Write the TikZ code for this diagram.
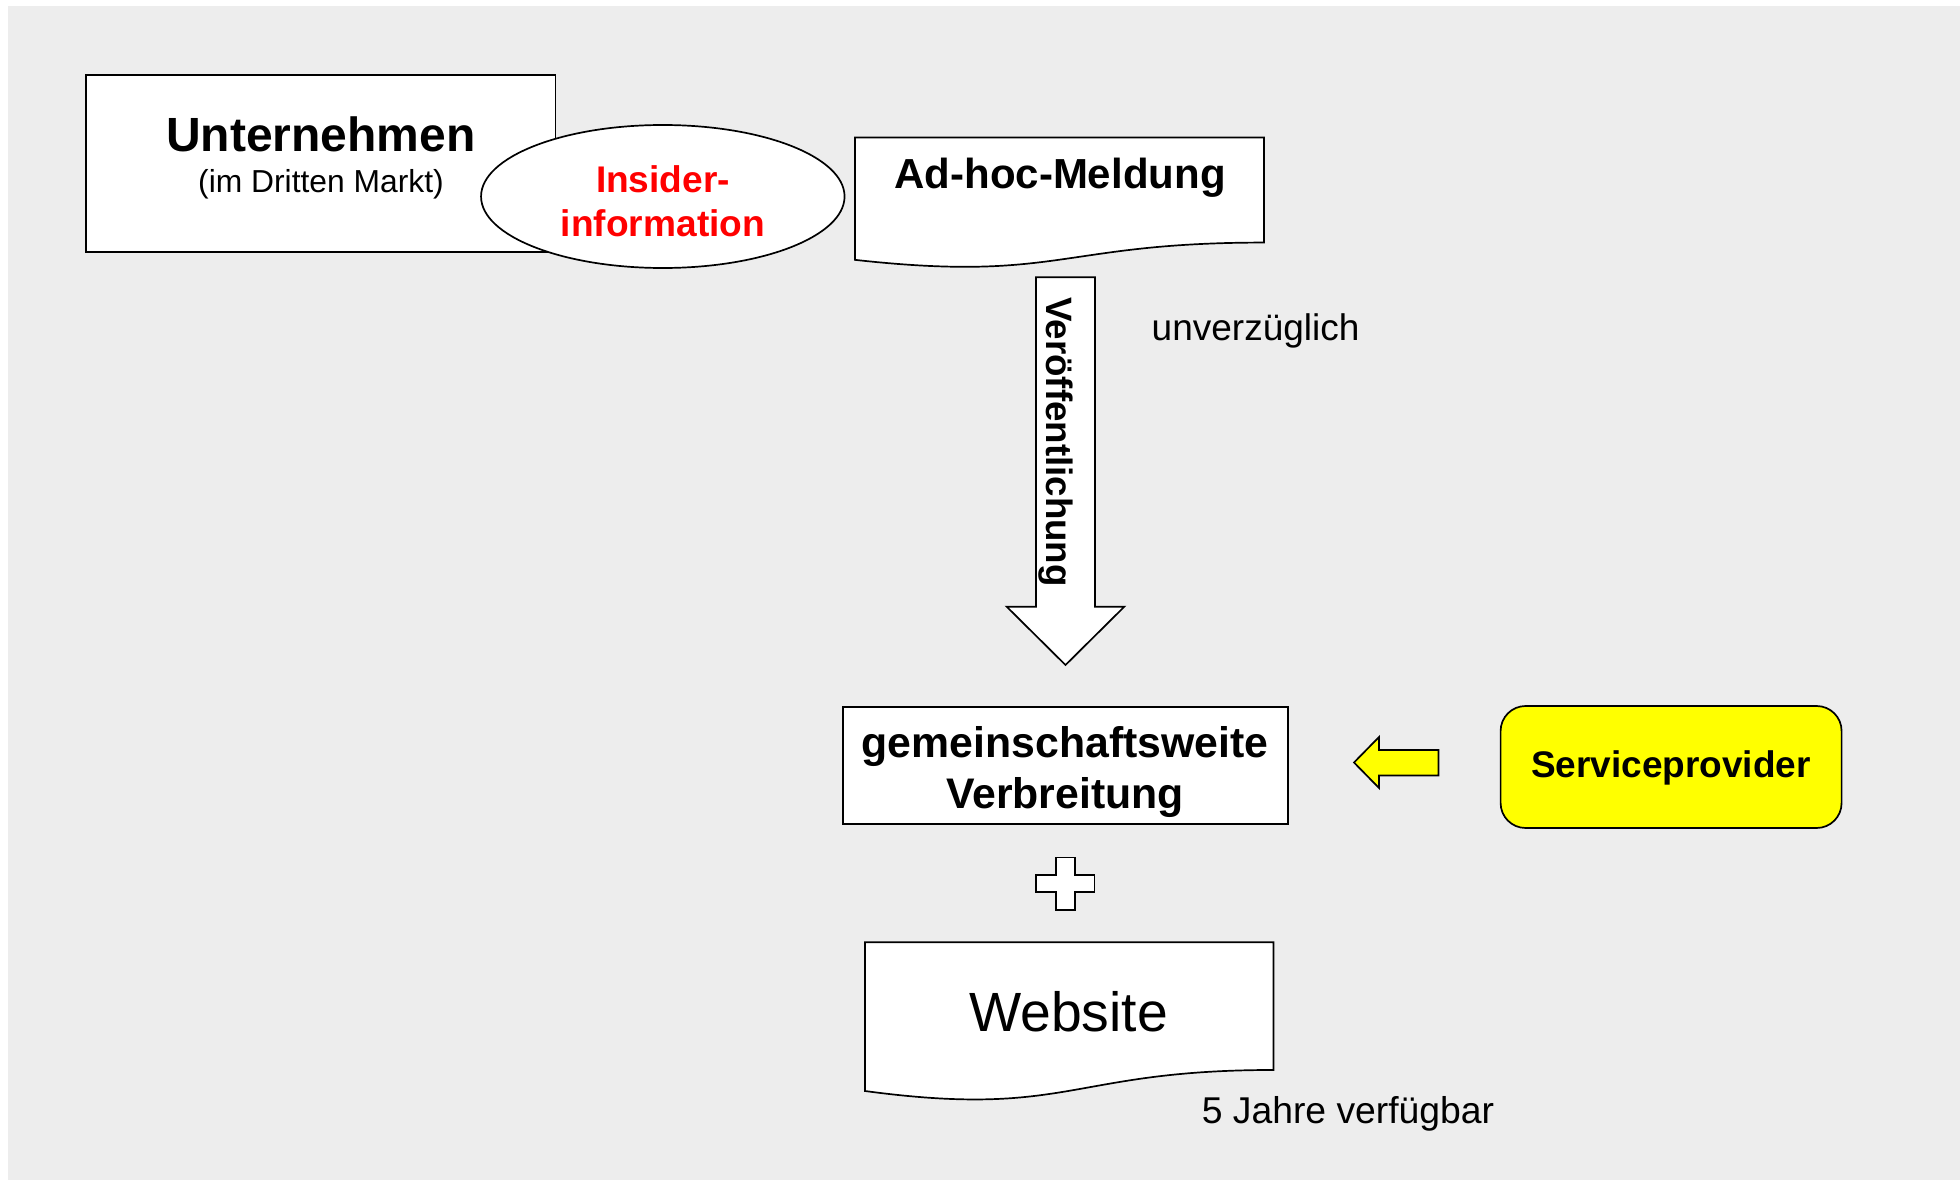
\documentclass[tikz,border=0pt]{standalone}
\usepackage{fontspec}
\setmainfont{Liberation Sans}
\usetikzlibrary{calc,shapes.geometric}

\definecolor{bggray}{HTML}{EDEDED}
\definecolor{alertred}{HTML}{FF0000}
\definecolor{hiyellow}{HTML}{FFFF00}

\tikzset{
  outline/.style={draw=black, line width=1.7pt, fill=white, line join=miter},
  frame/.style={draw=none, inner sep=0pt, outer sep=0pt},
  boxed/.style={frame, outline, rectangle},
  txt/.style={inner sep=0pt, outer sep=0pt, anchor=base, align=center},
}

% draw a document-shaped outline around the frame node #1
\newcommand{\docoutline}[1]{%
  \path let \p1=(#1.north west), \p2=(#1.south east) in
    \pgfextra{\pgfmathsetmacro{\hh}{\y1-\y2}}
    [outline] (\p1) -- (\x2,\y1)
      -- (\x2,{\y1-0.802*\hh})
      .. controls ({(\x1+\x2)/2},{\y1-0.802*\hh}) and ({(\x1+\x2)/2},{\y1-1.107*\hh})
      .. (\x1,{\y1-0.934*\hh}) -- cycle;%
}

\begin{document}
\begin{tikzpicture}[x=1pt,y=-1pt]
  \useasboundingbox (0,0) rectangle (1960,1180);
  \fill[bggray] (8,6) rectangle (1960,1180);

  % company box and insider ellipse
  \node[boxed, minimum width=469.5pt, minimum height=176.5pt, anchor=north west] (firm) at (86,75.3) {};
  \node[txt, font=\bfseries\fontsize{48}{56}\selectfont] (firmname) at (321,152) {Unternehmen};
  \node[txt, font=\fontsize{31.8}{38}\selectfont] (firmmarket) at (321,193) {(im Dritten Markt)};

  \node[frame, ellipse, outline, minimum width=363.5pt, minimum height=143pt] (insider) at (662.8,196.5) {};
  \node[txt, text=alertred, font=\bfseries\fontsize{37.1}{44}\selectfont] (insidera) at (663,192) {Insider-};
  \node[txt, text=alertred, font=\bfseries\fontsize{37.1}{44}\selectfont] (insiderb) at (663,236) {information};

  % ad-hoc notice (document shape)
  \node[frame, minimum width=409pt, minimum height=131pt, anchor=north west] (adhoc) at (855,137.5) {};
  \docoutline{adhoc}
  \node[txt, font=\bfseries\fontsize{42}{50}\selectfont] (adhoctext) at (1060,189) {Ad-hoc-Meldung};

  % publication block arrow
  \coordinate (pubtop) at (1065.5,277.3);
  \draw[outline] ($(pubtop)+(-29.5,0)$) -- ($(pubtop)+(29.5,0)$)
    -- ($(pubtop)+(29.5,329.4)$) -- ($(pubtop)+(58.8,329.4)$)
    -- ($(pubtop)+(0,387.7)$) -- ($(pubtop)+(-58.8,329.4)$)
    -- ($(pubtop)+(-29.5,329.4)$) -- cycle;
  \node[txt, rotate=-90, font=\bfseries\fontsize{36.7}{44}\selectfont] (pubtext) at (1046,442) {Veröffentlichung};
  \node[txt, anchor=base west, font=\fontsize{37}{44}\selectfont] (immediate) at (1151.7,340) {unverzüglich};

  % community-wide distribution
  \node[boxed, minimum width=444.5pt, minimum height=117.5pt, anchor=north west] (spread) at (843.2,706.7) {};
  \node[txt, font=\bfseries\fontsize{42.8}{50}\selectfont] (spreada) at (1065,757) {gemeinschaftsweite};
  \node[txt, font=\bfseries\fontsize{42.8}{50}\selectfont] (spreadb) at (1065,808) {Verbreitung};

  % service provider and its arrow
  \node[frame, rectangle, rounded corners=25pt, draw=black, line width=1.7pt, fill=hiyellow,
        minimum width=341pt, minimum height=122pt, anchor=north west] (provider) at (1500.6,706) {};
  \node[txt, font=\bfseries\fontsize{37}{44}\selectfont] (providertext) at (1671,777) {Serviceprovider};
  \coordinate (feedtip) at (1354,762.5);
  \draw[outline, fill=hiyellow] (feedtip) -- ($(feedtip)+(25,-25.5)$) -- ($(feedtip)+(25,-12.5)$)
    -- ($(feedtip)+(84.5,-12.5)$) -- ($(feedtip)+(84.5,13)$) -- ($(feedtip)+(25,13)$)
    -- ($(feedtip)+(25,25.5)$) -- cycle;

  % plus sign
  \coordinate (plus) at (1065.3,883.8);
  \draw[outline] ($(plus)+(-9.6,-26.2)$) -- ($(plus)+(9.6,-26.2)$) -- ($(plus)+(9.6,-8.5)$)
    -- ($(plus)+(29.3,-8.5)$) -- ($(plus)+(29.3,8.5)$) -- ($(plus)+(9.6,8.5)$)
    -- ($(plus)+(9.6,26.2)$) -- ($(plus)+(-9.6,26.2)$) -- ($(plus)+(-9.6,8.5)$)
    -- ($(plus)+(-29.3,8.5)$) -- ($(plus)+(-29.3,-8.5)$) -- ($(plus)+(-9.6,-8.5)$) -- cycle;

  % website (document shape)
  \node[frame, minimum width=408.4pt, minimum height=159.2pt, anchor=north west] (web) at (865,942.3) {};
  \docoutline{web}
  \node[txt, font=\fontsize{55.3}{64}\selectfont] (webtext) at (1068.5,1031.7) {Website};
  \node[txt, anchor=base west, font=\fontsize{37.3}{44}\selectfont] (available) at (1201.8,1123) {5 Jahre verfügbar};
\end{tikzpicture}
\end{document}
